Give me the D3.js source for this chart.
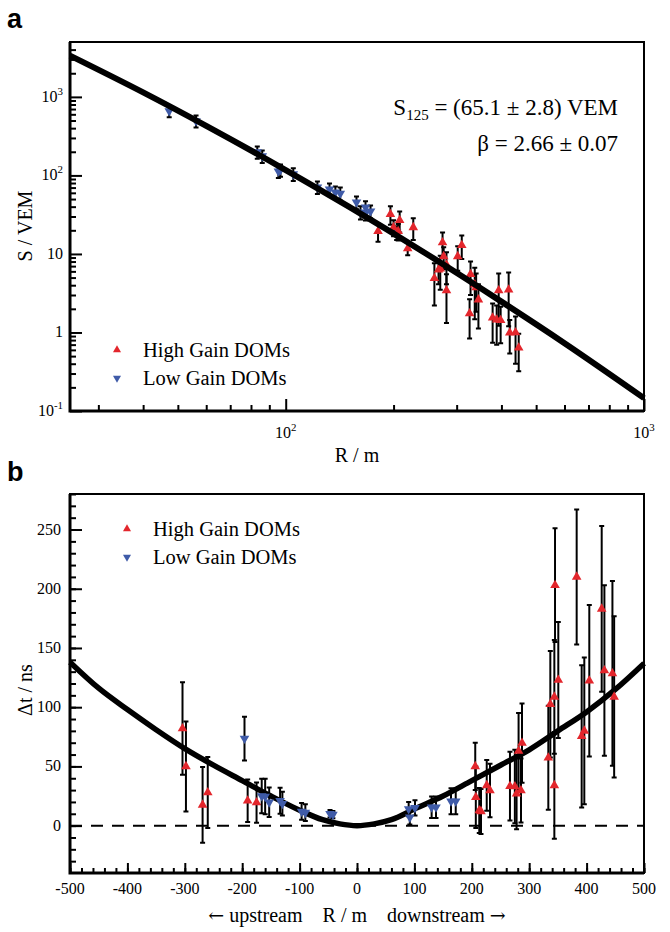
<!DOCTYPE html>
<html>
<head>
<meta charset="utf-8">
<script src="https://cdn.jsdelivr.net/npm/d3@7"></script>
<style>
body { margin: 0; background: #fff; }
text { font-family: "Liberation Serif", "Times New Roman", serif; fill: #000; }
</style>
</head>
<body>
<script>
var width = 670,
    height = 932;

// panel a : signal vs distance, [R (m), S (VEM), error]
var lowGainA = [
  [47.3, 662, 110], [56.2, 493, 85], [83.3, 198, 35], [86, 176, 32],
  [95.4, 113, 20], [96.7, 117, 21], [105, 104, 19], [122.6, 70.8, 13],
  [132.5, 66.7, 12], [137.6, 61, 11], [142, 59, 11], [157.6, 45.5, 8.5],
  [161.7, 33.9, 6.5], [167, 39.3, 7.5], [167, 33, 6.3], [172.5, 34.9, 6.5],
  [204, 18.8, 3.8]
];
var highGainA = [
  [181, 19.4, 5.1], [196, 32, 8.5], [200, 21.8, 5], [206, 19.4, 4.6],
  [208, 26.8, 8], [219, 11.7, 2.1], [227, 21.8, 6.7], [260, 4.9, 2.7],
  [267, 6.3, 2.2], [270, 6.5, 3], [274, 14, 4.8], [276, 9.3, 2.9],
  [281, 7.3, 3.2], [281, 3.42, 2.1], [302, 9.3, 3.2], [310, 12.9, 4.3],
  [326, 1.74, 0.9], [328, 5.5, 2.5], [337, 4.07, 2.6], [340, 3.73, 1.9],
  [345, 2.62, 1.5], [378, 1.54, 0.8], [388, 1.45, 0.75], [393, 3.42, 2.2],
  [398, 1.43, 0.7], [419, 3.5, 2.3], [422, 0.99, 0.45], [438, 1.0, 0.6],
  [447, 0.64, 0.32]
];
var fitAR = [25, 40, 60, 100, 150, 250, 400, 600, 1000];
var fitAS = [3350, 1140, 427, 117, 40, 9.7, 2.47, 0.73, 0.146];

// panel b : time residual vs distance, [R (m), dt (ns), error]
var lowGainB = [
  [-196, 73.5, 18.5], [-166, 25, 14.5], [-160, 24.6, 15], [-153, 19.7, 12.5],
  [-134, 21, 11], [-130, 18.5, 10], [-96.5, 12, 7], [-90, 11, 7],
  [-47, 10, 3.2], [-42, 9.3, 3], [90, 14, 6], [92, 7, 6], [101, 15, 6.5],
  [130, 15.5, 9], [137.6, 15.5, 9], [163.8, 20.6, 11], [172, 20.6, 11]
];
var highGainB = [
  [-304, 82, 39], [-298, 50, 38], [-269, 17.5, 32], [-260, 28, 30],
  [-190.5, 21, 18], [-175, 19.5, 17],
  [206, 50, 20], [207, 24, 26], [213, 12.7, 19], [216, 12, 19],
  [226, 34, 21.5], [231.7, 29.7, 22.6], [266.5, 33.3, 29], [275, 33, 31],
  [278, 27, 30], [281.5, 63, 32], [285.7, 29.7, 27], [287.5, 69.7, 33.5],
  [333.3, 57.3, 44], [336.8, 102.5, 45], [343.8, 108.7, 48], [343.8, 34, 45],
  [345, 203, 48], [350.7, 123, 49], [382.7, 210, 57], [391.4, 75.4, 60],
  [396, 80, 62], [404.7, 122.3, 64], [426.3, 183, 70], [431, 131, 72],
  [445, 128.5, 78], [448, 108.7, 68]
];
var fitBR  = [-500, -450, -400, -350, -300, -250, -200, -150, -100, -60, -30, 0, 30, 60, 100, 150, 200, 250, 300, 350, 400, 450, 500];
var fitBDt = [138, 116, 98, 81, 65, 51, 38, 25, 13, 5, 1.5, 0, 1.5, 5, 14, 25, 38, 51, 64, 80, 96, 115, 137];

// tick labels
var ldfXTicks = [100, 1000], ldfXExp = ["2", "3"];
var ldfYTicks = [0.1, 1, 10, 100, 1000];
var ldfYLabels = [["10", "-1"], ["1", ""], ["10", ""], ["10", "2"], ["10", "3"]];
var dtXTicks = [-500, -400, -300, -200, -100, 0, 100, 200, 300, 400, 500];
var dtYTicks = [0, 50, 100, 150, 200, 250];

var red = "#e3262c",
    blue = "#3f5ba8";

var svg = d3.select("body").append("svg")
    .attr("width", width)
    .attr("height", height);

function drawPoints(g, data, x, y, color, up, yFloor) {
  var bars = g.append("g").attr("stroke", "#000").attr("stroke-width", 2);
  bars.selectAll(null).data(data).enter().append("line")
      .attr("x1", function(d) { return x(d[0]); })
      .attr("x2", function(d) { return x(d[0]); })
      .attr("y1", function(d) { return y(Math.max(d[1] - d[2], yFloor)); })
      .attr("y2", function(d) { return y(d[1] + d[2]); });
  bars.selectAll(null).data(data).enter().append("path")
      .attr("d", function(d) {
        var cx = x(d[0]), t = y(d[1] + d[2]), b = y(Math.max(d[1] - d[2], yFloor));
        return "M" + (cx - 2.5) + "," + t + "H" + (cx + 2.5) +
               "M" + (cx - 2.5) + "," + b + "H" + (cx + 2.5);
      });
  g.selectAll(null).data(data).enter().append("path")
      .attr("d", d3.symbol(d3.symbolTriangle, 40))
      .attr("fill", color)
      .attr("transform", function(d) {
        return "translate(" + x(d[0]) + "," + y(d[1]) + ")" + (up ? "" : " rotate(180)");
      });
}

function powText(sel, base, exp, size) {
  sel.append("tspan").text(base);
  if (exp) sel.append("tspan").attr("dy", -size * 0.45).attr("font-size", size * 0.68).text(exp);
}

function legend(g, x, y, dy) {
  var items = [["High Gain DOMs", red, true], ["Low Gain DOMs", blue, false]];
  items.forEach(function(it, i) {
    g.append("path")
        .attr("d", d3.symbol(d3.symbolTriangle, 28))
        .attr("fill", it[1])
        .attr("transform", "translate(" + x + "," + (y + i * dy) + ")" + (it[2] ? "" : " rotate(180)"));
    g.append("text")
        .attr("x", x + 26).attr("y", y + i * dy + 7)
        .attr("font-size", 20.5)
        .text(it[0]);
  });
}

// ---------------- panel a ----------------
var xA = d3.scaleLog().domain([25, 1000]).range([70, 644]),
    yA = d3.scaleLog().domain([0.1, 5000]).range([411, 42]);

var gA = svg.append("g");

var xAMinor = xA.ticks().filter(function(v) { return ldfXTicks.indexOf(v) < 0; });
var yAMinor = yA.ticks().filter(function(v) { return ldfYTicks.indexOf(v) < 0 && v < 5000; });

gA.append("g").attr("transform", "translate(0,411)")
    .call(d3.axisBottom(xA).tickValues(xAMinor).tickSizeInner(-6).tickSizeOuter(0).tickFormat(""));
gA.append("g").attr("transform", "translate(0,411)")
    .call(d3.axisBottom(xA).tickValues(ldfXTicks).tickSizeInner(-12).tickSizeOuter(0).tickFormat(""));
gA.append("g").attr("transform", "translate(70,0)")
    .call(d3.axisLeft(yA).tickValues(yAMinor).tickSizeInner(-6).tickSizeOuter(0).tickFormat(""));
gA.append("g").attr("transform", "translate(70,0)")
    .call(d3.axisLeft(yA).tickValues(ldfYTicks).tickSizeInner(-12).tickSizeOuter(0).tickFormat(""));
gA.selectAll(".tick line").attr("stroke-width", 2);
gA.selectAll(".domain").remove();

gA.append("rect")
    .attr("x", 70).attr("y", 42).attr("width", 574).attr("height", 369)
    .attr("fill", "none").attr("stroke", "#000").attr("stroke-width", 2);
gA.append("path").attr("d", "M70,42V411H644").attr("fill", "none").attr("stroke", "#000").attr("stroke-width", 3);

ldfXTicks.forEach(function(v, i) {
  powText(gA.append("text").attr("x", xA(v)).attr("y", 438).attr("text-anchor", "middle").attr("font-size", 16), "10", ldfXExp[i], 16);
});
ldfYTicks.forEach(function(v, i) {
  powText(gA.append("text").attr("x", 63).attr("y", yA(v) + 5).attr("text-anchor", "end").attr("font-size", 16), ldfYLabels[i][0], ldfYLabels[i][1], 16);
});

gA.append("text").attr("x", 357).attr("y", 462).attr("text-anchor", "middle").attr("font-size", 20).text("R / m");
gA.append("text").attr("transform", "translate(32,226) rotate(-90)").attr("text-anchor", "middle").attr("font-size", 20).text("S / VEM");

drawPoints(gA.append("g"), lowGainA, xA, yA, blue, false, 0.1);
drawPoints(gA.append("g"), highGainA, xA, yA, red, true, 0.1);

var fitA = fitAR.map(function(r, i) { return [r, fitAS[i]]; });
gA.append("path")
    .datum(fitA)
    .attr("fill", "none").attr("stroke", "#000").attr("stroke-width", 6)
    .attr("d", d3.line()
        .x(function(d) { return xA(d[0]); })
        .y(function(d) { return yA(d[1]); })
        .curve(d3.curveMonotoneX));

var s125 = gA.append("text").attr("x", 618).attr("y", 115).attr("text-anchor", "end").attr("font-size", 23);
s125.append("tspan").text("S");
s125.append("tspan").attr("dy", 5).attr("font-size", 15).text("125");
s125.append("tspan").attr("dy", -5).text(" = (65.1 \u00b1 2.8) VEM");
gA.append("text").attr("x", 618).attr("y", 151).attr("text-anchor", "end").attr("font-size", 23)
    .text("\u03b2 = 2.66 \u00b1 0.07");

legend(gA, 117, 350, 28);

svg.append("text").attr("x", 7).attr("y", 28)
    .style("font-family", "'Liberation Sans', Arial, sans-serif")
    .attr("font-weight", "bold").attr("font-size", 27).text("a");

// ---------------- panel b ----------------
var xB = d3.scaleLinear().domain([-500, 500]).range([70, 644]),
    yB = d3.scaleLinear().domain([-40, 280]).range([873, 494]);

var gB = svg.append("g");

gB.append("g").attr("transform", "translate(0,873)")
    .call(d3.axisBottom(xB).tickValues(d3.range(-500, 501, 20)).tickSizeInner(-5).tickSizeOuter(0).tickFormat(""));
gB.append("g").attr("transform", "translate(0,873)")
    .call(d3.axisBottom(xB).tickValues(dtXTicks).tickSizeInner(-10).tickSizeOuter(0).tickFormat(""));
gB.append("g").attr("transform", "translate(70,0)")
    .call(d3.axisLeft(yB).tickValues(d3.range(-30, 281, 10)).tickSizeInner(-6).tickSizeOuter(0).tickFormat(""));
gB.append("g").attr("transform", "translate(70,0)")
    .call(d3.axisLeft(yB).tickValues(dtYTicks).tickSizeInner(-12).tickSizeOuter(0).tickFormat(""));
gB.selectAll(".tick line").attr("stroke-width", 2);
gB.selectAll(".domain").remove();

gB.append("rect")
    .attr("x", 70).attr("y", 494).attr("width", 574).attr("height", 379)
    .attr("fill", "none").attr("stroke", "#000").attr("stroke-width", 2);
gB.append("path").attr("d", "M70,494V873H644").attr("fill", "none").attr("stroke", "#000").attr("stroke-width", 3);

dtXTicks.forEach(function(v) {
  gB.append("text").attr("x", xB(v)).attr("y", 894).attr("text-anchor", "middle").attr("font-size", 16).text(v);
});
dtYTicks.forEach(function(v) {
  gB.append("text").attr("x", 61).attr("y", yB(v) + 5).attr("text-anchor", "end").attr("font-size", 16).text(v);
});

var xTitle = gB.append("text").attr("x", 357).attr("y", 922).attr("text-anchor", "middle").attr("font-size", 20)
    .attr("xml:space", "preserve");
xTitle.append("tspan").style("font-family", "'DejaVu Serif', serif").attr("font-size", 19).text("\u2190");
xTitle.append("tspan").text(" upstream    R / m    downstream ");
xTitle.append("tspan").style("font-family", "'DejaVu Serif', serif").attr("font-size", 19).text("\u2192");
gB.append("text").attr("transform", "translate(32,690) rotate(-90)").attr("text-anchor", "middle").attr("font-size", 20).text("\u0394t / ns");

gB.append("line")
    .attr("x1", 70).attr("x2", 644).attr("y1", yB(0)).attr("y2", yB(0))
    .attr("stroke", "#000").attr("stroke-width", 2).attr("stroke-dasharray", "12,9");

var fitB = fitBR.map(function(r, i) { return [r, fitBDt[i]]; });
gB.append("path")
    .datum(fitB)
    .attr("fill", "none").attr("stroke", "#000").attr("stroke-width", 5.5)
    .attr("d", d3.line()
        .x(function(d) { return xB(d[0]); })
        .y(function(d) { return yB(d[1]); })
        .curve(d3.curveMonotoneX));

drawPoints(gB.append("g"), highGainB, xB, yB, red, true, -40);
drawPoints(gB.append("g"), lowGainB, xB, yB, blue, false, -40);

legend(gB, 127, 529, 28);

svg.append("text").attr("x", 7).attr("y", 481)
    .style("font-family", "'Liberation Sans', Arial, sans-serif")
    .attr("font-weight", "bold").attr("font-size", 27).text("b");
</script>
</body>
</html>
